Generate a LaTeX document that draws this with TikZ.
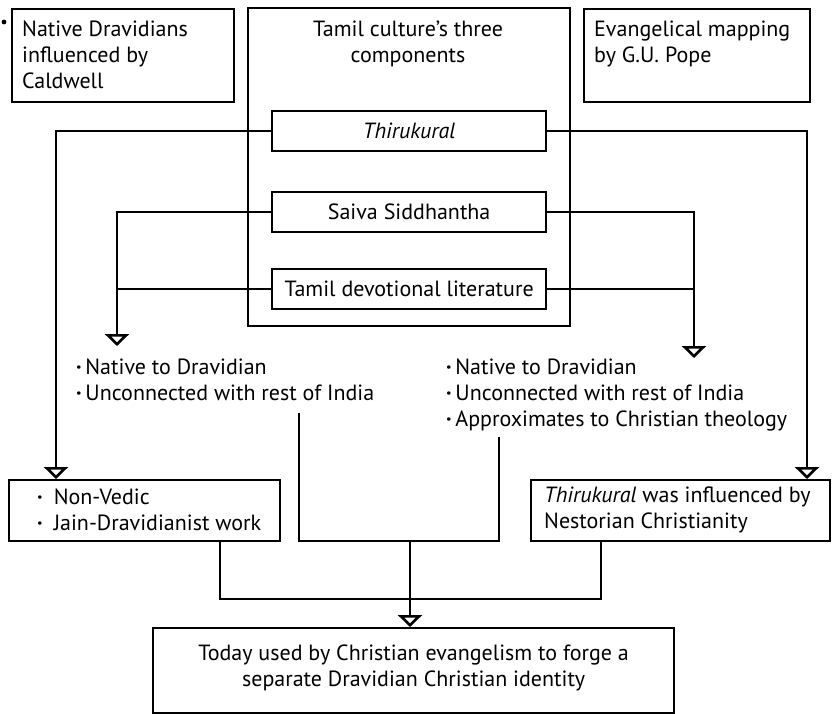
\documentclass[tikz,border=0pt]{standalone}
\usepackage{fontspec}
\setmainfont{PT Sans}
\usetikzlibrary{arrows.meta,calc}
\newcommand\bl{{\bfseries ·}}
\begin{document}
\begin{tikzpicture}[x=1pt,y=-1pt,
  every node/.style={font=\fontsize{22}{26}\selectfont},
  box/.style={draw,line width=2.3pt,inner sep=0pt,anchor=north west},
  txt/.style={inner sep=0pt,align=left},
  ln/.style={line width=2.3pt},
  arr/.style={line width=2.3pt,-{Triangle[open,width=24pt,length=12pt,line width=2.6pt]}}]
\useasboundingbox (0,0) rectangle (836,713);
% top boxes
\node[box,minimum width=222pt,minimum height=93pt] (bA) at (11,8) {};
\node[txt,anchor=west] (tA) at (22,54.5) {Native Dravidians\\influenced by\\Caldwell};
\fill (4,22) circle (2.4pt);
\node[box,minimum width=322pt,minimum height=318pt] (big) at (247,7) {};
\node[txt,align=center,anchor=north] (tbig) at (408,21) {Tamil culture's three\\components};
\node[box,minimum width=226pt,minimum height=93pt] (bB) at (583,8) {};
\node[txt,anchor=north west] (tB) at (594,21) {Evangelical mapping\\by G.U. Pope};
% components
\node[box,minimum width=274pt,minimum height=40pt] (thk) at (271,110) {};
\node[txt] (tthk) at (thk.center) {\itshape Thirukural};
\node[box,minimum width=274pt,minimum height=40pt] (sai) at (271,191) {};
\node[txt] (tsai) at (sai.center) {Saiva Siddhantha};
\node[box,minimum width=274pt,minimum height=40pt] (dev) at (271,268) {};
\node[txt] (tdev) at (dev.center) {Tamil devotional literature};
% middle texts
\node[txt,anchor=north west] (lt) at (76,359) {\bl\,Native to Dravidian\\\bl\,Unconnected with rest of India};
\node[txt,anchor=north west] (rt) at (446,359) {\bl\,Native to Dravidian\\\bl\,Unconnected with rest of India\\\bl\,Approximates to Christian theology};
% lower boxes
\node[box,minimum width=271pt,minimum height=61pt] (nv) at (8,479) {};
\node[txt,anchor=west] (tnv) at (37,509.5) {\bl\enspace Non-Vedic\\\bl\enspace Jain-Dravidianist work};
\node[box,minimum width=299pt,minimum height=61pt] (ti) at (530,479) {};
\node[txt,anchor=west] (tti) at (544,509.5) {\textit{Thirukural} was influenced by\\Nestorian Christianity};
\node[box,minimum width=521pt,minimum height=85pt] (bot) at (152,627) {};
\node[txt,align=center] (tbot) at ($(bot.center)+(0,-3)$) {Today used by Christian evangelism to forge a\\separate Dravidian Christian identity};
% coordinates
\coordinate (la) at (117,346);
\coordinate (ra) at (694,358);
\coordinate (ltb) at (299,413);
\coordinate (rtb) at (499,437);
\coordinate (m1) at (410,541);
% connectors
\draw[arr] (thk.west) -| ($(nv.north west)+(48,0)$);
\draw[arr] (thk.east) -| ($(ti.north west)+(277,0)$);
\draw[ln] (sai.west) -| (la |- dev.west) -- (dev.west);
\draw[arr] (la |- sai.west) -- (la);
\draw[ln] (sai.east) -| (ra |- dev.east) -- (dev.east);
\draw[arr] (ra |- sai.east) -- (ra);
\draw[ln] (ltb) |- (m1) -| (rtb);
\draw[ln] ($(nv.south west)+(212,0)$) |- (601,599) -- ($(ti.south west)+(71,0)$);
\draw[arr] (m1) -- (m1 |- bot.north);
\end{tikzpicture}
\end{document}
